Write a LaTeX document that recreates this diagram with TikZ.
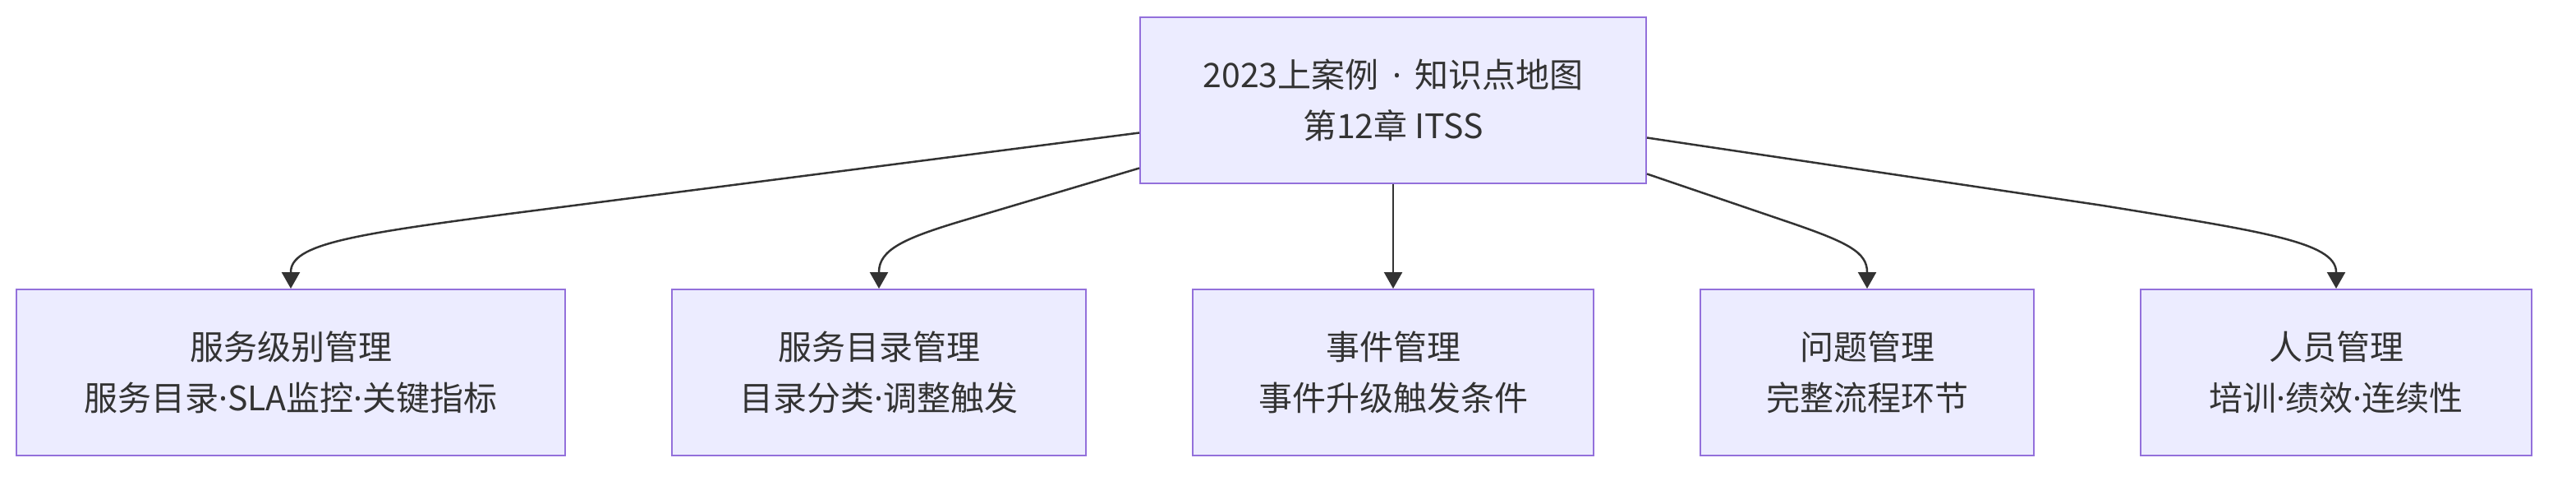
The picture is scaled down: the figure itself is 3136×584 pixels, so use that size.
\documentclass[tikz,border=0pt]{standalone}
\usepackage{fontspec}
\setmainfont{Noto Sans CJK SC}
\newfontfamily\dotfont{Noto Sans}
\newcommand{\dotsep}{{\dotfont ·}}
\usepackage{xcolor}
\usepackage{tikz}
\usetikzlibrary{arrows.meta}
\definecolor{lavender}{HTML}{ECECFF}
\definecolor{mediumpurple}{HTML}{9370DB}
\definecolor{inkgrey}{HTML}{333333}

\begin{document}
\begin{tikzpicture}[x=1pt, y=-1pt,
    topic/.style={fill=lavender, draw=mediumpurple, line width=2pt, minimum height=202pt,
      inner sep=0pt, align=center, text=inkgrey, font=\fontsize{41}{62}\selectfont},
    link/.style={draw=inkgrey, line width=2.5pt, -{Triangle[length=20pt, width=22pt]}}]
  \useasboundingbox (0,0) rectangle (3136,584);
  \node[topic, minimum width=616pt] (itss) at (1696,121.5) {2023上案例\hspace{0.4em}\dotsep\hspace{0.4em}知识点地图\\第12章 ITSS};
  \node[topic, minimum width=668pt] (slm) at (354,453) {服务级别管理\\服务目录\dotsep SLA监控\dotsep 关键指标};
  \node[topic, minimum width=504pt] (catalog) at (1070,453) {服务目录管理\\目录分类\dotsep 调整触发};
  \node[topic, minimum width=488pt] (incident) at (1696,453) {事件管理\\事件升级触发条件};
  \node[topic, minimum width=406pt] (problem) at (2273,453) {问题管理\\完整流程环节};
  \node[topic, minimum width=476pt] (staff) at (2844,453) {人员管理\\培训\dotsep 绩效\dotsep 连续性};
  \draw[link] ([yshift=-40pt]itss.west) -- (620,260)
    .. controls (430,285) and ([yshift=54pt]slm.north) .. ([yshift=20pt]slm.north) -- (slm.north);
  \draw[link] ([yshift=-83pt]itss.west) -- (1170,269)
    .. controls (1100,290) and ([yshift=47pt]catalog.north) .. ([yshift=20pt]catalog.north) -- (catalog.north);
  \draw[link] (itss.south) -- (incident.north);
  \draw[link] ([yshift=-90pt]itss.east) -- (2180,271)
    .. controls (2250,295) and ([yshift=44pt]problem.north) .. ([yshift=20pt]problem.north) -- (problem.north);
  \draw[link] ([yshift=-46pt]itss.east) -- (2560,250)
    .. controls (2750,281) and ([yshift=57pt]staff.north) .. ([yshift=20pt]staff.north) -- (staff.north);
\end{tikzpicture}
\end{document}
